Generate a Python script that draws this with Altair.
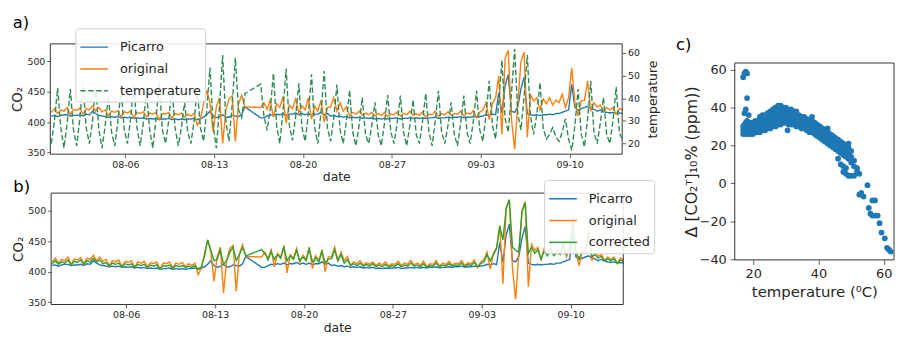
import altair as alt
import pandas as pd

FONT = "DejaVu Sans"
INK = "#262626"
SPINE = "#333333"
W, H = 895, 329

# ---------------- data ----------------
# readings every 6 h (04, 10, 16, 22 h), 2019-07-31 .. 2019-09-13, plus 09-14 04 h
grid_start = "2019-07-31 04:00"

picarro = [
    410, 411, 409, 411,  412, 412, 410, 411,  411, 412, 410, 413,  412, 418, 414, 411,
    410, 409, 408, 409,  408, 409, 407, 408,  407, 408, 406, 407,  406, 407, 405, 406,
    405, 406, 404, 405,  405, 406, 404, 405,  404, 405, 404, 405,  405, 406, 404, 406,
    408, 412, 418, 410,  407, 409, 412, 408,  408, 411, 410, 409,  413, 425, None, None,
    None, None, 407, 407,  410, 412, 411, 413,  412, 414, 411, 413,  413, 415, 412, 414,
    412, 414, 411, 413,  413, 416, 412, 414,  410, 411, 409, 410,  408, 409, 407, 408,
    407, 408, 406, 407,  406, 407, 405, 406,  405, 406, 405, 406,  406, 407, 405, 406,
    406, 407, 406, 407,  406, 407, 406, 407,  407, 408, 406, 407,  407, 408, 407, 408,
    408, 409, 407, 408,  408, 409, 408, 409,  410, 412, 411, 413,  412, 448, 415, 460,
    478, 418, 416, 425,  455, 474, 414, 412,  411, 412, 411, 412,  412, 413, 412, 414,
    414, 416, 418, 420,  462, 424, 420, 422,  424, 426, 422, 421,  418, 420, 417, 416,
    415, 416, 414, 415,  414,
]

original = [
    416, 422, 414, 420,  418, 424, 412, 421,  419, 423, 413, 422,  420, 427, 418, 424,
    417, 420, 410, 418,  416, 419, 408, 417,  415, 418, 407, 416,  414, 417, 408, 415,
    413, 416, 404, 414,  413, 416, 406, 414,  412, 415, 408, 413,  410, 414, 395, 405,
    430, 452, 432, 384,  425, 440, 365, 420,  438, 443, 368, 430,  444, 425, None, None,
    None, None, 424, 432,  421, 436, 408, 430,  424, 442, 398, 428,  422, 438, 415, 427,
    420, 440, 405, 426,  418, 436, 400, 424,  425, 440, 418, 432,  418, 425, 410, 416,
    413, 418, 411, 415,  412, 416, 410, 414,  411, 416, 409, 413,  412, 417, 410, 414,
    412, 418, 411, 414,  411, 417, 408, 413,  412, 418, 409, 414,  412, 417, 411, 414,
    413, 418, 410, 415,  413, 419, 407, 416,  420, 432, 404, 430,  440, 476, 380, 505,
    518, 405, 355, 430,  500, 515, 375, 445,  435, 440, 420, 438,  430, 440, 428, 436,
    432, 446, 424, 440,  489, 432, 410, 435,  436, 468, 418, 432,  425, 428, 418, 424,
    420, 424, 413, 422,  420,
]

corrected = [
    413, 418, 412, 416,  414, 419, 411, 417,  415, 419, 412, 418,  416, 422, 416, 419,
    413, 415, 409, 414,  412, 414, 408, 413,  411, 413, 407, 412,  410, 412, 407, 411,
    409, 411, 405, 410,  409, 411, 406, 410,  408, 410, 407, 409,  407, 410, 404, 408,
    425, 452, 435, 418,  420, 436, 412, 418,  432, 440, 418, 428,  440, 426, None, None,
    None, None, 436, 430,  419, 433, 420, 428,  422, 440, 418, 426,  420, 435, 418, 424,
    418, 437, 416, 423,  416, 433, 414, 421,  421, 436, 418, 428,  414, 420, 410, 413,
    410, 414, 409, 412,  409, 413, 408, 411,  408, 412, 407, 410,  409, 413, 408, 411,
    409, 414, 409, 411,  408, 413, 407, 410,  409, 414, 408, 411,  409, 413, 409, 411,
    410, 414, 408, 412,  410, 415, 408, 413,  416, 428, 418, 428,  438, 474, 452, 503,
    518, 440, 435, 432,  498, 513, 430, 440,  430, 436, 420, 434,  426, 436, 426, 432,
    428, 442, 428, 436,  480, 430, 422, 432,  432, 464, 425, 428,  422, 425, 418, 421,
    418, 421, 414, 419,  417,
]

temperature = [
    20, 30, 44.5, 27,  18, 29, 44, 26,  19, 31, 47, 27,  20, 30, 45, 26,
    18, 28, 41, 25,  19, 30, 44, 26,  20, 31, 46, 27,  19, 29, 43, 26,
    18, 31, 47, 26,  20, 30, 45, 27,  19, 27, 38, 25,  20, 30, 44, 27,
    21, 35, 53.5, 28,  18, 36, 59, 30,  21, 37, 57.8, 35,  31.5, 42, None, None,
    None, None, 46.2, 32,  25.8, 35, 51, 28,  20, 34, 53, 28,  21.4, 32, 46.5, 27,
    21, 33, 50.5, 27,  20, 34, 52, 27,  21, 31, 46, 26,  20, 30, 43.6, 25,
    19, 28, 40.3, 24,  20, 28, 38.2, 24,  19, 29, 41.4, 25,  20, 29, 41.1, 25,
    19, 28, 39.3, 24,  20, 30, 42.1, 25,  19, 30, 43.3, 25,  20, 28, 38.2, 24,
    19, 29, 41.1, 25,  20, 30, 43.3, 26,  21, 33, 47.6, 28,  22, 38, 56.7, 31,
    25, 42, 61.7, 33,  26, 41, 59, 32,  24, 33, 46.9, 27,  22, 24, 27, 23,
    21, 25, 31, 22,  17, 28, 44, 24,  18.5, 31, 47.6, 25,  20, 29, 40.3, 24,
    20, 30, 45, 25,  21.4,
]

# panel c: (temperature, [delta values at that temperature])
c_columns = [
    (16.9, [26, 28, 30, 56]), (17.3, [27, 29, 31, 37, 58]), (17.7, [26, 28, 30, 32, 39, 59]),
    (18.1, [27, 29, 31, 33, 45, 58]), (18.6, [26, 28, 30, 32, 36]), (19.2, [26, 28, 30, 32]),
    (19.9, [26, 28, 30, 32]), (20.6, [27, 29, 31, 33]), (21.3, [27, 29, 31, 33]),
    (22.0, [27, 29, 31, 33, 35]), (22.8, [28, 30, 32, 34, 36]), (23.6, [28, 30, 32, 34, 36]),
    (24.4, [29, 31, 33, 35, 37]), (25.2, [29, 31, 33, 35, 37, 38]), (26.0, [30, 32, 34, 36, 38, 39]),
    (26.8, [30, 32, 34, 36, 38, 40]), (27.6, [31, 33, 35, 37, 39, 41]), (28.4, [31, 33, 35, 37, 39, 41]),
    (29.2, [32, 34, 36, 38, 40]), (30.0, [32, 34, 36, 38, 40]), (30.5, [28]),
    (30.8, [31, 33, 35, 37, 39]), (31.6, [31, 33, 35, 37, 39]), (32.4, [31, 33, 35, 37, 38]),
    (33.2, [30, 32, 34, 36, 38]), (34.0, [30, 32, 34, 36]), (34.8, [29, 31, 33, 35]),
    (35.6, [29, 31, 33, 35]), (36.4, [28, 30, 32, 34]), (37.2, [27, 29, 31, 33]),
    (38.0, [27, 29, 31, 33, 35]), (38.8, [26, 28, 30, 32]), (39.6, [25, 27, 29, 31]),
    (40.4, [24, 26, 28, 30]), (41.2, [23, 25, 27, 29]), (42.0, [22, 24, 26, 28]),
    (42.8, [21, 23, 25, 27, 29]), (43.6, [20, 22, 24, 26]), (44.4, [19, 21, 23, 25]),
    (45.2, [18, 20, 22, 24]), (46.0, [13, 17, 19, 21, 23]), (46.8, [10, 16, 18, 20, 22]),
    (47.6, [6, 9, 15, 17, 19, 21]), (48.4, [5, 8, 14, 17, 20]), (49.2, [4, 13, 16, 19, 21]),
    (50.0, [4, 11, 14, 17]), (50.9, [4, 9, 12]), (51.8, [6, 8]), (52.5, [5, -6]),
    (53.1, [-5]), (53.8, [-7]), (55.0, [-1]), (55.4, [-13]), (55.9, [-16]),
    (56.5, [-9, -17]), (57.3, [-9, -17]), (58.1, [-17]), (58.7, [-21]), (59.3, [-26]),
    (60.3, [-29]), (61.0, [-34]), (61.6, [-35]), (62.1, [-36]),
]

date_ticks = [(8, 6), (8, 13), (8, 20), (8, 27), (9, 3), (9, 10)]
co2_ticks = [350, 400, 450, 500]
temp_ticks = [20, 30, 40, 50, 60]
c_x_ticks = [20, 40, 60]
c_y_ticks = [-40, -20, 0, 20, 40, 60]

series_a = ["Picarro", "original", "temperature"]
colors_a = ["#1f77b4", "#ff7f0e", "#2e8b57"]
dashes_a = [[1, 0], [1, 0], [5.5, 2.5]]
series_b = ["Picarro", "original", "corrected"]
colors_b = ["#1f77b4", "#ff7f0e", "#2ca02c"]

# ---------------- tables ----------------
times = pd.date_range(grid_start, periods=len(picarro), freq="6h")
wide = pd.DataFrame({"date": times, "Picarro": picarro, "original": original,
                     "corrected": corrected, "temperature": temperature})
long = wide.melt("date", var_name="series", value_name="value").dropna()
long["value"] = long["value"].astype(float)

c_t, c_d = [], []
for t, ds in c_columns:
    for d in ds:
        c_t.append(t)
        c_d.append(d)
scatter = pd.DataFrame({"t": c_t, "d": c_d})

t0 = alt.DateTime(year=2019, month=7, date=31, hours=2, minutes=10)
t1 = alt.DateTime(year=2019, month=9, date=14, hours=3, minutes=20)
tick_vals = [alt.DateTime(year=2019, month=m, date=d) for m, d in date_ticks]

one = alt.Data(values=[{}])

# ---------------- geometry (plot rectangles, chart coords) ----------------
A_X = [42.7, 619.7]; A_Y = [146.0, 34.7]
B_X = [43.5, 620.8]; B_Y = [297.7, 185.3]
C_X = [733.3, 894.0]; C_Y = [252.7, 54.0]
co2_dom_a = [347.2, 528.7]
co2_dom_b = [346.1, 528.8]
temp_dom = [15.33, 63.93]
c_xdom = [14.32, 63.13]
c_ydom = [-40.4, 63.5]

legend_style = dict(orient="none", title=None, symbolType="stroke", symbolSize=784,
                    symbolStrokeWidth=1.5, labelFont=FONT, labelFontSize=13,
                    labelColor=INK, labelOffset=11, strokeColor="#cccccc",
                    fillColor="rgba(255,255,255,0.88)", padding=4, cornerRadius=3,
                    rowPadding=-3.5)

# ---------------- axes ----------------
axXA = alt.Axis(orient="bottom", offset=A_Y[0] - H, values=tick_vals,
                format="%m-%d", title="date", titlePadding=2)
axYA = alt.Axis(orient="left", offset=-A_X[0], values=co2_ticks, title="CO₂",
                titlePadding=2, titleFontSize=13.5)
axYT = alt.Axis(orient="right", offset=-(W - A_X[1]), values=temp_ticks,
                title="temperature", titleAngle=270, titleBaseline="top", titlePadding=7)
axXB = alt.Axis(orient="bottom", offset=B_Y[0] - H, values=tick_vals,
                format="%m-%d", title="date", titlePadding=2)
axYB = alt.Axis(orient="left", offset=-B_X[0], values=co2_ticks, title="CO₂",
                titlePadding=2, titleFontSize=13.5)
axXC = alt.Axis(orient="bottom", offset=C_Y[0] - H, values=c_x_ticks,
                title="temperature (⁰C)", labelFontSize=13, titleFontSize=15,
                tickSize=4.5, labelPadding=3, titlePadding=4)
axYC = alt.Axis(orient="left", offset=-C_X[0], values=c_y_ticks,
                title="Δ [CO₂ᵀ]₁₀% (ppm))", labelFontSize=13, titleFontSize=16,
                tickSize=4.5, labelPadding=4, titlePadding=0)


def frame(xd, yd, xtype, xaxis, yaxis):
    return alt.Chart(one).mark_rect(fillOpacity=0, stroke=SPINE, strokeWidth=1).encode(
        x=alt.XDatum(xd[0], type=xtype, axis=xaxis),
        x2=alt.X2Datum(xd[1]),
        y=alt.YDatum(yd[0], type="quantitative", axis=yaxis),
        y2=alt.Y2Datum(yd[1]),
    )


# ---------------- panel a ----------------
xA = alt.X("date:T", scale=alt.Scale(domain=[t0, t1], range=A_X, nice=False), axis=axXA)
yA = alt.Y("value:Q", scale=alt.Scale(domain=co2_dom_a, range=A_Y, nice=False, zero=False),
           axis=axYA)
yT = alt.Y("value:Q", scale=alt.Scale(domain=temp_dom, range=A_Y, nice=False, zero=False),
           axis=axYT)
legA = alt.Legend(legendX=68, legendY=19, **legend_style)
colA = alt.Color("series:N", scale=alt.Scale(domain=series_a, range=colors_a), legend=legA)
dashA = alt.StrokeDash("series:N", scale=alt.Scale(domain=series_a, range=dashes_a), legend=legA)


def lineA(name, y):
    return alt.Chart(long).transform_filter(alt.datum.series == name).mark_line(
        clip=True, strokeWidth=1.4).encode(x=xA, y=y, color=colA, strokeDash=dashA)


co2A = alt.layer(lineA("Picarro", yA), lineA("original", yA),
                 frame([t0, t1], co2_dom_a, "temporal", axXA, axYA))
tempA = lineA("temperature", yT)
panelA = alt.layer(co2A, tempA).resolve_scale(y="independent")

# ---------------- panel b ----------------
xB = alt.X("date:T", scale=alt.Scale(domain=[t0, t1], range=B_X, nice=False), axis=axXB)
yB = alt.Y("value:Q", scale=alt.Scale(domain=co2_dom_b, range=B_Y, nice=False, zero=False),
           axis=axYB)
colB = alt.Color("series:N", scale=alt.Scale(domain=series_b, range=colors_b),
                 legend=alt.Legend(legendX=541, legendY=172, **legend_style))


def lineB(name):
    return alt.Chart(long).transform_filter(alt.datum.series == name).mark_line(
        clip=True, strokeWidth=1.4).encode(x=xB, y=yB, color=colB)


panelB = alt.layer(lineB("Picarro"), lineB("original"), lineB("corrected"),
                   frame([t0, t1], co2_dom_b, "temporal", axXB, axYB))

# ---------------- panel c ----------------
xC = alt.X("t:Q", scale=alt.Scale(domain=c_xdom, range=C_X, nice=False, zero=False), axis=axXC)
yC = alt.Y("d:Q", scale=alt.Scale(domain=c_ydom, range=C_Y, nice=False, zero=False), axis=axYC)
dots = alt.Chart(scatter).mark_circle(size=34, opacity=1, color="#1f77b4").encode(x=xC, y=yC)
panelC = alt.layer(dots, frame(c_xdom, c_ydom, "quantitative", axXC, axYC))


# ---------------- panel letters ----------------
def letter(txt, x, y):
    return alt.Chart(one).mark_text(text=txt, font=FONT, fontSize=16.5, align="left",
                                    baseline="alphabetic", color="black").encode(
        x=alt.value(x), y=alt.value(y))


chart = alt.layer(
    panelA, panelB, panelC,
    letter("a)", 4.7, 18.5), letter("b)", 5.3, 184.5), letter("c)", 674, 41),
).resolve_scale(
    x="independent", y="independent", color="independent", strokeDash="independent"
).properties(
    width=W, height=H, padding=0, autosize=alt.AutoSizeParams(type="none")
).configure_view(
    strokeWidth=0
).configure_axis(
    grid=False, domain=False, tickSize=3.5, tickWidth=0.8, tickColor=SPINE,
    labelColor=INK, labelFont=FONT, labelFontSize=9.5, labelPadding=2,
    titleFont=FONT, titleFontSize=12.5, titleFontWeight="normal", titleColor=INK
)

chart.save("out.html", embed_options={"renderer": "svg", "actions": False})
